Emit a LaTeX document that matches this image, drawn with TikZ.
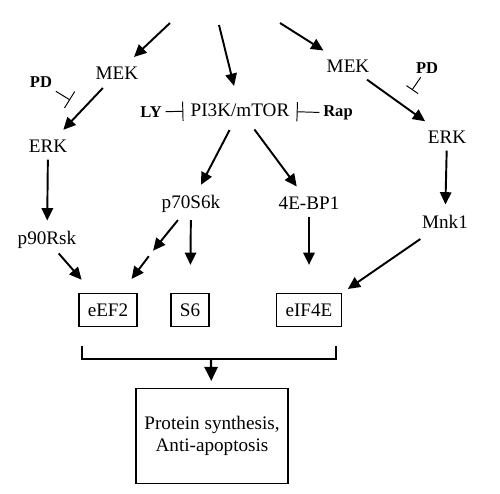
\documentclass[tikz,border=0pt]{standalone}
\usepackage{fontspec}
\setmainfont{Liberation Serif}
\usetikzlibrary{arrows.meta}

\begin{document}
\begin{tikzpicture}[
  font=\fontsize{10.9}{12.5}\selectfont,
  lbl/.style   = {inner sep=4pt},
  drug/.style  = {inner sep=2pt, font=\fontsize{9.4}{11}\selectfont\bfseries},
  sbox/.style  = {draw, line width=0.6pt, minimum height=0.66cm, inner sep=2pt},
  obox/.style  = {draw, line width=0.6pt, minimum width=3.04cm,
                  minimum height=1.9cm, align=center},
  arr/.style   = {-{Triangle[length=7pt,width=6.5pt]}, line width=1.1pt,
                  shorten >=2pt},
  inh/.style   = {-{Bar[width=#1]}, line width=0.55pt},
  inh/.default = 11pt,
]
\useasboundingbox (0,0) rectangle (10,-9.86);

% free ends of the upstream arrows
\coordinate (tL) at (3.40,-0.46);
\coordinate (tM) at (4.38,-0.50);
\coordinate (tR) at (5.60,-0.46);

\node[lbl]  (mekL)  at (2.34,-1.46) {MEK};
\node[lbl]  (mekR)  at (6.96,-1.32) {MEK};
\node[drug] (pdL)   at (0.82,-1.64) {PD};
\node[drug] (pdR)   at (8.54,-1.36) {PD};
\node[drug] (ly)    at (3.02,-2.24) {LY};
\node[lbl]  (pi3k)  at (4.80,-2.20) {PI3K/mTOR};
\node[drug] (rap)   at (6.76,-2.26) {Rap};
\node[lbl]  (erkL)  at (0.96,-2.92) {ERK};
\node[lbl]  (erkR)  at (8.94,-2.74) {ERK};
\node[lbl]  (p70)   at (3.82,-4.08) {p70S6k};
\node[lbl]  (bp1)   at (6.18,-4.06) {4E-BP1};
\node[lbl]  (p90)   at (0.94,-4.80) {p90Rsk};
\node[lbl]  (mnk)   at (8.90,-4.44) {Mnk1};
\node[sbox, minimum width=1.16cm] (eef2)  at (2.16,-6.20) {eEF2};
\node[sbox, minimum width=0.76cm] (s6)    at (3.80,-6.20) {S6};
\node[sbox, minimum width=1.30cm] (eif4e) at (6.18,-6.20) {eIF4E};
\node[obox] (out)   at (4.24,-8.72) {Protein synthesis,\\Anti-apoptosis};

\coordinate (pdLend) at (1.40,-2.00);
\coordinate (pdRend) at (8.24,-1.80);
\coordinate (mid)    at (3.04,-5.04);
\coordinate (brL)    at (1.64,-6.92);
\coordinate (brR)    at (6.72,-6.92);
\coordinate (brM)    at (4.22,-7.18);

% upstream
\draw[arr] (tL) -- (mekL);
\draw[arr, shorten >=6pt] (tM) -- (pi3k);
\draw[arr] (tR) -- (mekR);

% MEK/ERK branches
\draw[arr, shorten <=1pt] (mekL) -- (erkL);
\draw[arr] (erkL) -- (p90);
\draw[arr, shorten >=10pt, shorten <=-2pt] (p90) -- (eef2);
\draw[arr] (mekR) -- (erkR);
\draw[arr] (erkR) -- (mnk);
\draw[arr, shorten >=4pt, shorten <=3pt] (mnk) -- (eif4e.north east);

% PI3K/mTOR branch
\draw[arr, shorten <=4pt] (pi3k) -- (p70);
\draw[arr, shorten <=4pt] (pi3k) -- (bp1);
\draw[arr, shorten >=1pt] (p70) -- (mid);
\draw[arr, shorten <=3pt, shorten >=10pt] (mid) -- (eef2);
\draw[arr, shorten >=16pt] (p70) -- (s6);
\draw[arr, shorten >=16pt] (bp1) -- (eif4e);

% inhibitors
\draw[inh] (pdL) -- (pdLend);
\draw[inh=8pt] (pdR) -- (pdRend);
\draw[inh] (ly) -- (pi3k);
\draw[inh] (rap) -- (pi3k);

% output
\draw[line width=1.3pt] (brL) |- (brM) -| (brR);
\draw[-{Triangle[length=8pt,width=7.5pt]}, line width=1.3pt, shorten >=4pt]
  (brM) -- (out);

\end{tikzpicture}
\end{document}
